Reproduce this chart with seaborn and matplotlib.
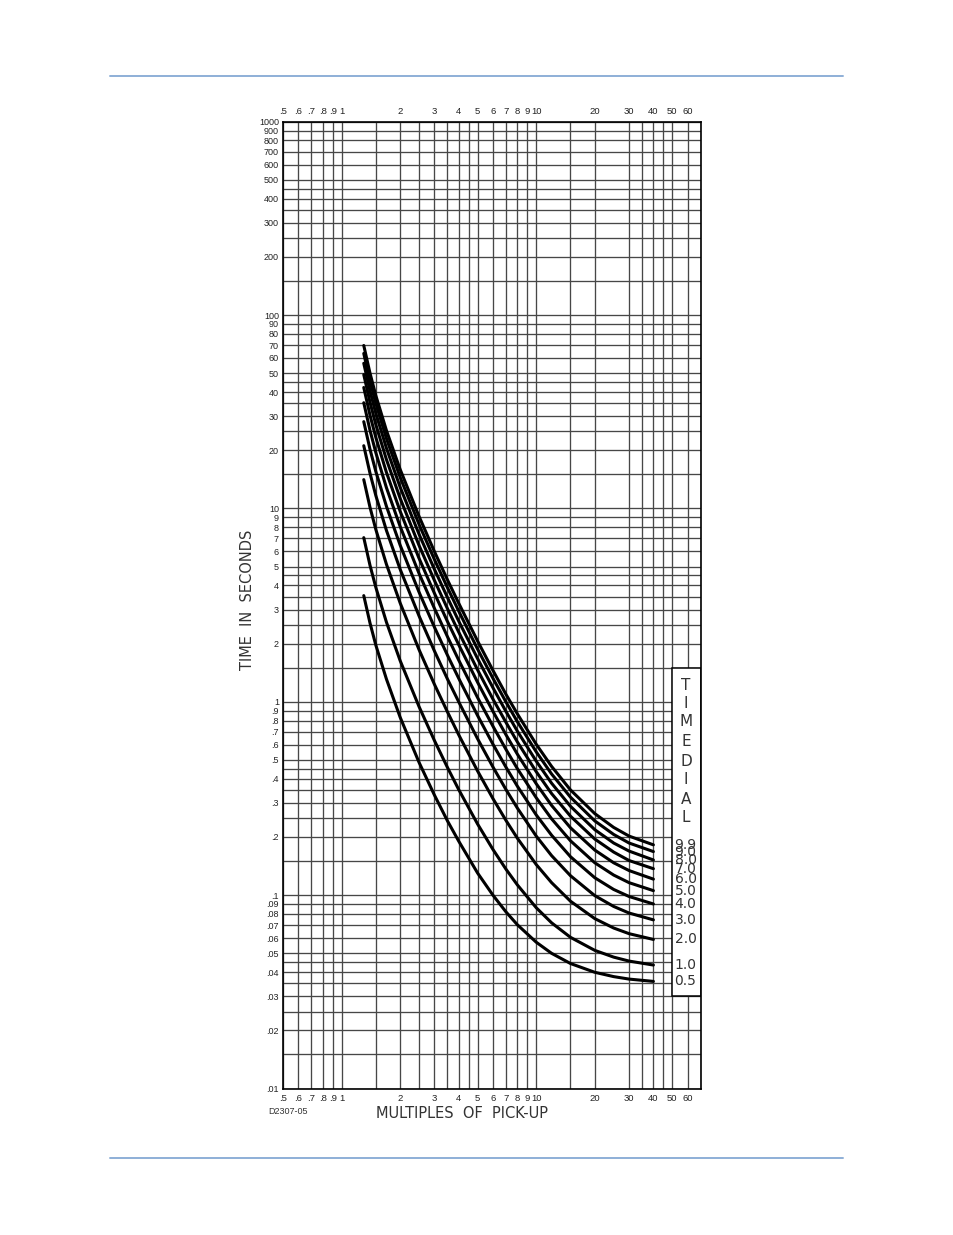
import numpy as np
import pandas as pd
import matplotlib
matplotlib.use("Agg")
import matplotlib.pyplot as plt
import seaborn as sns
from matplotlib.patches import Rectangle
from matplotlib.lines import Line2D
from matplotlib.ticker import FixedLocator, FixedFormatter, NullLocator

# ---------------- data ----------------
multiples = [1.3, 1.4, 1.5, 1.7, 2, 2.5, 3, 3.5, 4, 5, 6, 7, 8, 10, 12, 15, 20, 25, 30, 40]

td_0_5 = [3.54, 2.55, 1.96, 1.31, 0.831, 0.486, 0.329, 0.242, 0.190, 0.130, 0.0998, 0.0818, 0.0703, 0.0571, 0.0500, 0.0443, 0.0399, 0.0379, 0.0368, 0.0358]
td_1_0 = [7.06, 5.07, 3.90, 2.58, 1.63, 0.944, 0.630, 0.457, 0.351, 0.233, 0.172, 0.136, 0.113, 0.0861, 0.0719, 0.0605, 0.0518, 0.0478, 0.0456, 0.0435]
td_2_0 = [14.09, 10.12, 7.77, 5.14, 3.24, 1.86, 1.23, 0.886, 0.674, 0.438, 0.315, 0.243, 0.197, 0.144, 0.116, 0.093, 0.0756, 0.0676, 0.0632, 0.059]
td_3_0 = [21.1, 15.17, 11.64, 7.69, 4.84, 2.78, 1.83, 1.31, 0.998, 0.643, 0.459, 0.351, 0.282, 0.202, 0.160, 0.126, 0.0994, 0.0874, 0.0808, 0.0745]
td_4_0 = [28.1, 20.2, 15.5, 10.25, 6.45, 3.69, 2.43, 1.74, 1.32, 0.848, 0.602, 0.458, 0.366, 0.260, 0.204, 0.158, 0.123, 0.107, 0.0984, 0.090]
td_5_0 = [35.2, 25.3, 19.4, 12.8, 8.06, 4.61, 3.04, 2.17, 1.64, 1.05, 0.746, 0.566, 0.451, 0.319, 0.248, 0.191, 0.147, 0.127, 0.116, 0.1055]
td_6_0 = [42.2, 30.3, 23.25, 15.35, 9.66, 5.52, 3.64, 2.60, 1.97, 1.26, 0.890, 0.674, 0.536, 0.377, 0.291, 0.223, 0.171, 0.147, 0.134, 0.121]
td_7_0 = [49.2, 35.35, 27.1, 17.9, 11.27, 6.44, 4.24, 3.03, 2.29, 1.46, 1.03, 0.781, 0.620, 0.435, 0.335, 0.256, 0.195, 0.167, 0.151, 0.137]
td_8_0 = [56.3, 40.4, 31.0, 20.5, 12.87, 7.36, 4.84, 3.46, 2.61, 1.67, 1.18, 0.889, 0.705, 0.493, 0.379, 0.288, 0.218, 0.186, 0.169, 0.152]
td_9_0 = [63.3, 45.4, 34.9, 23.0, 14.48, 8.27, 5.44, 3.89, 2.94, 1.87, 1.32, 0.996, 0.789, 0.551, 0.423, 0.321, 0.242, 0.206, 0.186, 0.168]
td_9_9 = [69.6, 50.0, 38.3, 25.3, 15.9, 9.10, 5.98, 4.27, 3.23, 2.06, 1.45, 1.09, 0.866, 0.603, 0.463, 0.350, 0.264, 0.224, 0.202, 0.182]

time_dials = ["0.5", "1.0", "2.0", "3.0", "4.0", "5.0", "6.0", "7.0", "8.0", "9.0", "9.9"]
curves = [td_0_5, td_1_0, td_2_0, td_3_0, td_4_0, td_5_0, td_6_0, td_7_0, td_8_0, td_9_0, td_9_9]

grid_x = [0.5, 0.6, 0.7, 0.8, 0.9, 1, 1.5, 2, 2.5, 3, 3.5, 4, 4.5, 5, 6, 7, 8, 9, 10,
          15, 20, 30, 35, 40, 45, 50, 60, 70]
x_tick_labels = {0.5: ".5", 0.6: ".6", 0.7: ".7", 0.8: ".8", 0.9: ".9", 1: "1", 2: "2", 3: "3",
                 4: "4", 5: "5", 6: "6", 7: "7", 8: "8", 9: "9", 10: "10", 20: "20", 30: "30",
                 40: "40", 50: "50", 60: "60"}
y_mantissas = [1, 1.5, 2, 2.5, 3, 3.5, 4, 4.5, 5, 6, 7, 8, 9]
y_label_mantissas = [1, 2, 3, 4, 5, 6, 7, 8, 9]
y_decades = [0.01, 0.1, 1, 10, 100]

# ---------------- build long table ----------------
rows = []
for td, series in zip(time_dials, curves):
    for m, t in zip(multiples, series):
        rows.append({"M": m, "T": t, "TD": td})
df = pd.DataFrame(rows)

sns.set_theme(style="white")
plt.rcParams["font.family"] = ["DejaVu Sans"]

W, H = 954, 1235
fig = plt.figure(figsize=(W / 100, H / 100), dpi=100)
fig.patch.set_facecolor("white")

L, R, T_, B = 283.0, 700.7, 121.7, 1088.5
ax = fig.add_axes([L / W, 1 - B / H, (R - L) / W, (B - T_) / H])
ax.set_xscale("log")
ax.set_yscale("log")
ax.set_xlim(0.5, 70)
ax.set_ylim(0.01, 1000)

sns.lineplot(data=df, x="M", y="T", units="TD", estimator=None, color="black",
             lw=2.2, sort=False, ax=ax, legend=False, zorder=3)

# grid / ticks
def fmt_y(v):
    if v >= 1:
        return f"{int(round(v))}"
    s = f"{v:.2f}".rstrip("0")
    return s[1:] if s.startswith("0") else s

grid_y = [m * d for d in y_decades for m in y_mantissas] + [1000]
y_labels = []
for v in grid_y:
    mant = round(v / (10 ** np.floor(np.log10(v) + 1e-9)), 3)
    y_labels.append(fmt_y(v) if mant in y_label_mantissas else "")

ax.xaxis.set_major_locator(FixedLocator(grid_x))
ax.xaxis.set_major_formatter(FixedFormatter([x_tick_labels.get(v, "") for v in grid_x]))
ax.xaxis.set_minor_locator(NullLocator())
ax.yaxis.set_major_locator(FixedLocator(grid_y))
ax.yaxis.set_major_formatter(FixedFormatter(y_labels))
ax.yaxis.set_minor_locator(NullLocator())

tick_font = "Liberation Sans"
ax.tick_params(axis="x", which="major", length=0, labeltop=True, labelbottom=True,
               labelsize=6.8, colors="#222222", pad=4)
ax.tick_params(axis="y", which="major", length=0, labelsize=6.5, colors="#222222", pad=3)
for lab in ax.get_xticklabels() + ax.get_yticklabels():
    lab.set_family(tick_font)

ax.grid(True, which="major", color="#474747", lw=0.95)
ax.set_axisbelow(True)
for s in ax.spines.values():
    s.set_visible(True)
    s.set_color("black")
    s.set_linewidth(1.2)
ax.set_xlabel("")
ax.set_ylabel("")

# time dial box
box = Rectangle((50, 0.03), 20, 1.5 - 0.03, facecolor="white", edgecolor="black",
                lw=1.1, zorder=2)
ax.add_patch(box)

for td, series in zip(time_dials, curves):
    ax.text(58.5, series[-1], td, ha="center", va="center", fontsize=10,
            color="#333333", zorder=4)

letters = ["T", "I", "M", "E", "D", "I", "A", "L"]
letter_y = [686, 704, 722, 742, 761, 780, 799, 818]
for ch, yp in zip(letters, letter_y):
    fig.text(686 / W, 1 - yp / H, ch, ha="center", va="center", fontsize=11,
             color="#333333")

# axis titles
fig.text(247 / W, 1 - 600 / H, "TIME  IN  SECONDS", rotation=90, ha="center",
         va="center", fontsize=10.5, color="#333333")
fig.text(462 / W, 1 - 1114 / H, "MULTIPLES  OF  PICK-UP", ha="center", va="center",
         fontsize=10.5, color="#333333")
fig.text(268 / W, 1 - 1112 / H, "D2307-05", ha="left", va="center", fontsize=6.5,
         color="#333333", family=tick_font)

# page rules
for yp in (76, 1158):
    fig.add_artist(Line2D([110 / W, 843 / W], [1 - yp / H, 1 - yp / H],
                          color="#8eafd7", lw=1.4))

fig.savefig("out.png", dpi=100, facecolor="white")
